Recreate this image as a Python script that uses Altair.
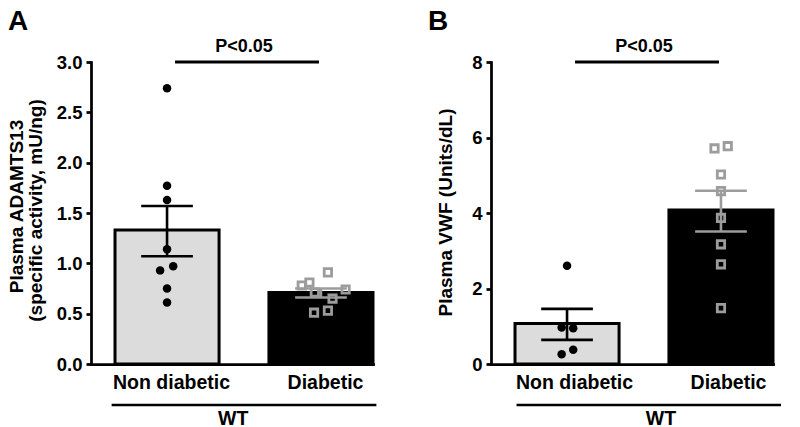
import altair as alt
import pandas as pd

FONT = "Liberation Sans"
LIGHT = "#dcdcdc"
GRAY = "#9c9c9c"

groups = ["Non diabetic", "Diabetic"]
group_idx = [0, 1]

# Panel A: plasma ADAMTS13 (specific activity, mU/ng)
a_mean = [1.33, 0.71]
a_sem_lo = [1.07, 0.66]
a_sem_hi = [1.57, 0.75]
a_nd_vals = [2.74, 1.77, 1.63, 1.14, 0.93, 0.97, 0.75, 0.61]
a_nd_jit = [0.0, 0.0, 0.0, 0.0, -0.045, 0.04, 0.0, 0.0]
a_d_vals = [0.91, 0.81, 0.78, 0.71, 0.74, 0.65, 0.53, 0.51]
a_d_jit = [0.045, -0.075, -0.125, -0.04, 0.16, 0.075, 0.045, -0.045]
a_ticks = [0, 0.5, 1.0, 1.5, 2.0, 2.5, 3.0]

# Panel B: plasma VWF (Units/dL)
b_mean = [1.07, 4.08]
b_sem_lo = [0.64, 3.51]
b_sem_hi = [1.46, 4.59]
b_nd_vals = [2.60, 0.97, 0.95, 0.38, 0.26]
b_nd_jit = [0.0, -0.035, 0.04, 0.04, -0.035]
b_d_vals = [5.71, 5.77, 5.02, 4.58, 3.87, 3.17, 2.64, 1.48]
b_d_jit = [-0.042, 0.044, 0.0, 0.0, 0.0, 0.0, 0.0, 0.0]
b_ticks = [0, 2, 4, 6, 8]

XDOM = [-0.494, 1.338]
W, H = 282, 302
HALF = 0.338
CAP = 0.168


def panel(letter, means, lo, hi, nd_vals, nd_jit, d_vals, d_jit, ticks, fmt,
          title_lines, letter_x, wt_x0, wt_x1, wt_cx, lab_off):
    ymax = ticks[-1]
    xs = alt.Scale(domain=XDOM, nice=False, zero=False, padding=0)
    ys = alt.Scale(domain=[0, ymax], nice=False, padding=0)
    col = alt.Color("group:N", scale=alt.Scale(domain=groups, range=["black", GRAY]), legend=None)
    fill = alt.Fill("group:N", scale=alt.Scale(domain=groups, range=[LIGHT, "black"]), legend=None)

    bars_df = pd.DataFrame({"group": groups, "idx": group_idx, "mean": means, "lo": lo, "hi": hi})
    pts_df = pd.DataFrame({
        "group": [groups[0]] * len(nd_vals) + [groups[1]] * len(d_vals),
        "idx": [0] * len(nd_vals) + [1] * len(d_vals),
        "jit": nd_jit + d_jit,
        "v": nd_vals + d_vals,
    })

    xaxis = alt.Axis(values=group_idx, labelExpr="['Non diabetic','Diabetic'][datum.value]",
                     ticks=False, tickSize=0, grid=False, title=None, labelPadding=9,
                     labelFontSize=19.5, labelOffset=lab_off, labelFlush=False)
    yaxis = alt.Axis(values=ticks, format=fmt, grid=False, title=None, tickSize=5,
                     labelPadding=4, labelFontSize=18.5)

    bars = alt.Chart(bars_df).transform_calculate(
        x0=f"datum.idx - {HALF}", x1=f"datum.idx + {HALF}"
    ).mark_bar(stroke="black", strokeWidth=3, orient="vertical").encode(
        x=alt.X("x0:Q", scale=xs, axis=xaxis),
        x2="x1:Q",
        y=alt.Y("mean:Q", scale=ys, axis=yaxis),
        y2=alt.datum(0),
        fill=fill,
    )
    err = alt.Chart(bars_df).mark_rule(strokeWidth=2.6).encode(
        x=alt.X("idx:Q", scale=xs), y=alt.Y("lo:Q", scale=ys), y2="hi:Q", color=col)
    caps = alt.Chart(bars_df).transform_fold(["lo", "hi"], as_=["k", "yv"]).transform_calculate(
        c0=f"datum.idx - {CAP}", c1=f"datum.idx + {CAP}"
    ).mark_rule(strokeWidth=2.6).encode(
        x=alt.X("c0:Q", scale=xs), x2="c1:Q", y=alt.Y("yv:Q", scale=ys), color=col)

    pts = alt.Chart(pts_df).transform_calculate(xp="datum.idx + datum.jit")
    circles = pts.transform_filter(alt.datum.idx == 0).mark_point(
        shape="circle", filled=True, size=72, color="black", opacity=1).encode(
        x=alt.X("xp:Q", scale=xs), y=alt.Y("v:Q", scale=ys))
    squares = pts.transform_filter(alt.datum.idx == 1).mark_point(
        shape="square", filled=False, size=54, color=GRAY, strokeWidth=2.8, opacity=1).encode(
        x=alt.X("xp:Q", scale=xs), y=alt.Y("v:Q", scale=ys))

    one = alt.Data(values=[{}])
    sig = alt.Chart(one).mark_rule(strokeWidth=3, color="black").encode(
        x=alt.datum(0.052, scale=xs), x2=alt.datum(0.987), y=alt.datum(ymax, scale=ys))
    ptxt = alt.Chart(one).mark_text(text="P<0.05", font=FONT, fontWeight="bold", fontSize=18,
                                    baseline="alphabetic", align="center", color="black").encode(
        x=alt.datum(0.5, scale=xs), y=alt.value(-10))
    let = alt.Chart(one).mark_text(text=letter, font=FONT, fontWeight="bold", fontSize=28,
                                   baseline="top", align="left", color="black").encode(
        x=alt.value(letter_x), y=alt.value(-54))
    titles = []
    for (txt, tx, ty) in title_lines:
        titles.append(alt.Chart(one).mark_text(text=txt, font=FONT, fontWeight="bold", fontSize=19,
                                               angle=270, baseline="alphabetic", align="center",
                                               color="black").encode(
            x=alt.value(tx), y=alt.value(ty)))
    wt_rule = alt.Chart(one).mark_rule(strokeWidth=2.6, color="black").encode(
        x=alt.datum(wt_x0, scale=xs), x2=alt.datum(wt_x1), y=alt.value(343))
    wt_txt = alt.Chart(one).mark_text(text="WT", font=FONT, fontWeight="bold", fontSize=19.5,
                                      baseline="alphabetic", align="center", color="black").encode(
        x=alt.datum(wt_cx, scale=xs), y=alt.value(363))

    return alt.layer(bars, err, caps, circles, squares, sig, ptxt, let, *titles, wt_rule, wt_txt).properties(
        width=W, height=H)


A = panel("A", a_mean, a_sem_lo, a_sem_hi, a_nd_vals, a_nd_jit, a_d_vals, a_d_jit, a_ticks, ".1f",
          [("Plasma ADAMTS13", -68, 144.5), ("(specific activity, mU/ng)", -49, 148.5)],
          -83, -0.36, 1.36, 0.43, 4)
B = panel("B", b_mean, b_sem_lo, b_sem_hi, b_nd_vals, b_nd_jit, b_d_vals, b_d_jit, b_ticks, "d",
          [("Plasma VWF (Units/dL)", -39, 150.5)],
          -63, -0.328, 1.39, 0.61, 7)

chart = alt.hconcat(A, B, spacing=118, bounds="flush").properties(padding=0).configure_view(
    stroke=None
).configure_axis(
    labelFont=FONT, labelFontWeight="bold", labelColor="black",
    domainColor="black", domainWidth=2.75, domainCap="square",
    tickColor="black", tickWidth=2.75,
)

chart.save("out.html", embed_options={"renderer": "svg", "actions": False})
